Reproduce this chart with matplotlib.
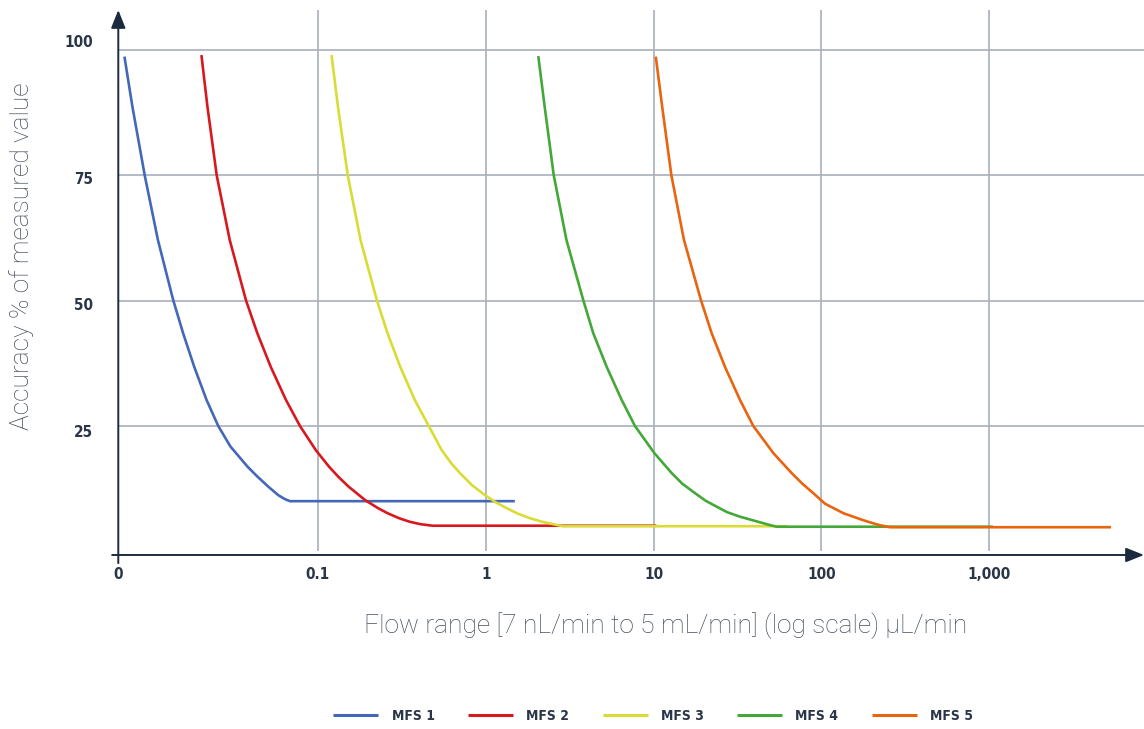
import numpy as np
import matplotlib
matplotlib.use("Agg")
import matplotlib.pyplot as plt
from matplotlib.transforms import ScaledTranslation

mfs1_flow = [0.007029, 0.007842, 0.009286, 0.011129, 0.013729, 0.015726, 0.018315,
             0.021683, 0.025459, 0.030099, 0.038006, 0.043594, 0.050563, 0.057998,
             0.063581, 0.068082, 1.49]
mfs1_acc = [98.7, 88.7, 75, 62.1, 50.1, 43.5, 36.8, 30.2, 25, 20.9, 16.9, 14.9, 12.9,
            11.2, 10.4, 10, 10]

mfs2_flow = [0.020214, 0.021953, 0.024934, 0.029810, 0.037232, 0.043534, 0.052328,
             0.064459, 0.078125, 0.097026, 0.11630, 0.13285, 0.15221, 0.19129,
             0.22813, 0.25988, 0.30426, 0.35148, 0.40876, 0.48195, 10.4]
mfs2_acc = [99, 88.7, 75, 62.1, 50.1, 43.5, 36.8, 30.2, 25, 20.2, 16.9, 14.8, 12.9,
            10.2, 8.6, 7.6, 6.6, 5.9, 5.4, 5.1, 5.1]

mfs3_flow = [0.12054, 0.13158, 0.15055, 0.17944, 0.22441, 0.25985, 0.30933, 0.37747,
             0.45740, 0.54597, 0.62460, 0.70194, 0.82765, 0.98908, 1.1425, 1.3322,
             1.5557, 1.8340, 2.1624, 2.5250, 2.8846, 62.4]
mfs3_acc = [99, 88.7, 75, 62.1, 50.1, 43.5, 36.8, 30.2, 25, 20.2, 17.5, 15.6, 13.2,
            11.2, 9.8, 8.6, 7.5, 6.6, 5.9, 5.4, 5.0, 5.0]

mfs4_flow = [2.0554, 2.2442, 2.5424, 3.0264, 3.8113, 4.3714, 5.2546, 6.4549, 7.7483,
             10.097, 12.822, 14.806, 17.652, 20.386, 23.773, 27.451, 32.733, 38.852,
             45.063, 49.729, 54.150, 1053]
mfs4_acc = [98.8, 88.7, 75, 62.1, 50.1, 43.5, 36.8, 30.2, 25, 19.6, 15.6, 13.5, 11.6,
            10.1, 8.9, 7.8, 6.9, 6.2, 5.6, 5.2, 4.9, 4.9]

mfs5_flow = [10.307, 11.253, 12.769, 15.177, 19.160, 22.193, 26.636, 32.733, 39.282,
             51.689, 66.527, 76.938, 89.444, 105.06, 135.06, 154.95, 177.70, 200.25,
             223.49, 256.37, 5319]
mfs5_acc = [98.7, 88.7, 75, 62.1, 50.1, 43.5, 36.8, 30.2, 25, 19.6, 15.6, 13.5, 11.6,
            9.5, 7.6, 6.9, 6.2, 5.65, 5.2, 4.8, 4.8]

series = [("MFS 1", mfs1_flow, mfs1_acc, "#4468b8"),
          ("MFS 2", mfs2_flow, mfs2_acc, "#d7191f"),
          ("MFS 3", mfs3_flow, mfs3_acc, "#d9dc34"),
          ("MFS 4", mfs4_flow, mfs4_acc, "#44a838"),
          ("MFS 5", mfs5_flow, mfs5_acc, "#e8640f")]

x_min, x_max = 0.00646, 8365
x_ticks = [x_min, 0.1, 1, 10, 100, 1000]
x_labels = ["0", "0.1", "1", "10", "100", "1,000"]
y_ticks = [25, 50, 75, 100]

navy = "#1c2a3d"
grid_col = "#a9b0bb"
label_col = "#46505e"
cond = ["DejaVu Sans Condensed", "DejaVu Sans"]
light = ["Roboto", "DejaVu Sans"]

fig = plt.figure(figsize=(11.44, 7.29), dpi=100)
ax = fig.add_axes([0.1034, 0.2387, 0.8966, 0.7476])
ax.set_xscale("log")
ax.set_xlim(x_min, x_max)
ax.set_ylim(-0.74, 108.0)

for y in y_ticks:
    ax.axhline(y, color=grid_col, lw=1.2, zorder=1)
ax.vlines(x_ticks[1:], 0, 108.0, color=grid_col, lw=1.2, zorder=1)

for name, fx, fy, col in series:
    ax.plot(fx, fy, color=col, lw=1.9, label=name, zorder=3,
            solid_capstyle="butt", solid_joinstyle="round")

for s in ax.spines.values():
    s.set_visible(False)

# axis lines with arrowheads
arrow = dict(arrowstyle="-|>,head_length=0.55,head_width=0.22", mutation_scale=20,
             color=navy, lw=1.4, shrinkA=0, shrinkB=0)
ax.annotate("", xy=(0, 1.0), xytext=(0, -0.015), xycoords="axes fraction",
            arrowprops=arrow, annotation_clip=False)
ax.annotate("", xy=(1.0, 0), xytext=(-0.006, 0), xycoords="axes fraction",
            arrowprops=arrow, annotation_clip=False)

ax.set_xticks(x_ticks)
ax.set_xticklabels(x_labels)
ax.xaxis.set_minor_locator(matplotlib.ticker.NullLocator())
ax.set_yticks(y_ticks)
ax.set_yticklabels([str(v) for v in y_ticks])
ax.tick_params(axis="x", length=0, pad=9)
ax.tick_params(axis="y", length=0, pad=18)
for lab in ax.get_xticklabels() + ax.get_yticklabels():
    lab.set_family(cond)
    lab.set_stretch("condensed")
    lab.set_fontweight("bold")
    lab.set_fontsize(11)
    lab.set_color("#2a3547")
# the y labels sit a little off their gridlines in the original
for lab, dy in zip(ax.get_yticklabels(), [-3.5, -2.5, -2.0, 6.5]):
    lab.set_transform(lab.get_transform() + ScaledTranslation(0, dy / 72, fig.dpi_scale_trans))

fig.text(0.0192, 0.649, "Accuracy % of measured value", rotation=90, ha="center",
         va="center", fontsize=19, family=light, fontweight="light", color=label_col)
fig.text(0.5815, 0.1413, "Flow range [7 nL/min to 5 mL/min] (log scale) µL/min",
         ha="center", va="center", fontsize=19, family=light, fontweight="light",
         color=label_col)

leg = fig.legend(loc="center", bbox_to_anchor=(0.571, 0.0178), ncol=5, frameon=False,
                 handlelength=3.25, handletextpad=0.95, columnspacing=2.4,
                 prop=dict(family=cond, weight="bold", size=10, stretch="condensed"))
for t in leg.get_texts():
    t.set_color("#2a3547")
for h in leg.legend_handles:
    h.set_linewidth(2.2)

fig.savefig("out.png", dpi=100)
